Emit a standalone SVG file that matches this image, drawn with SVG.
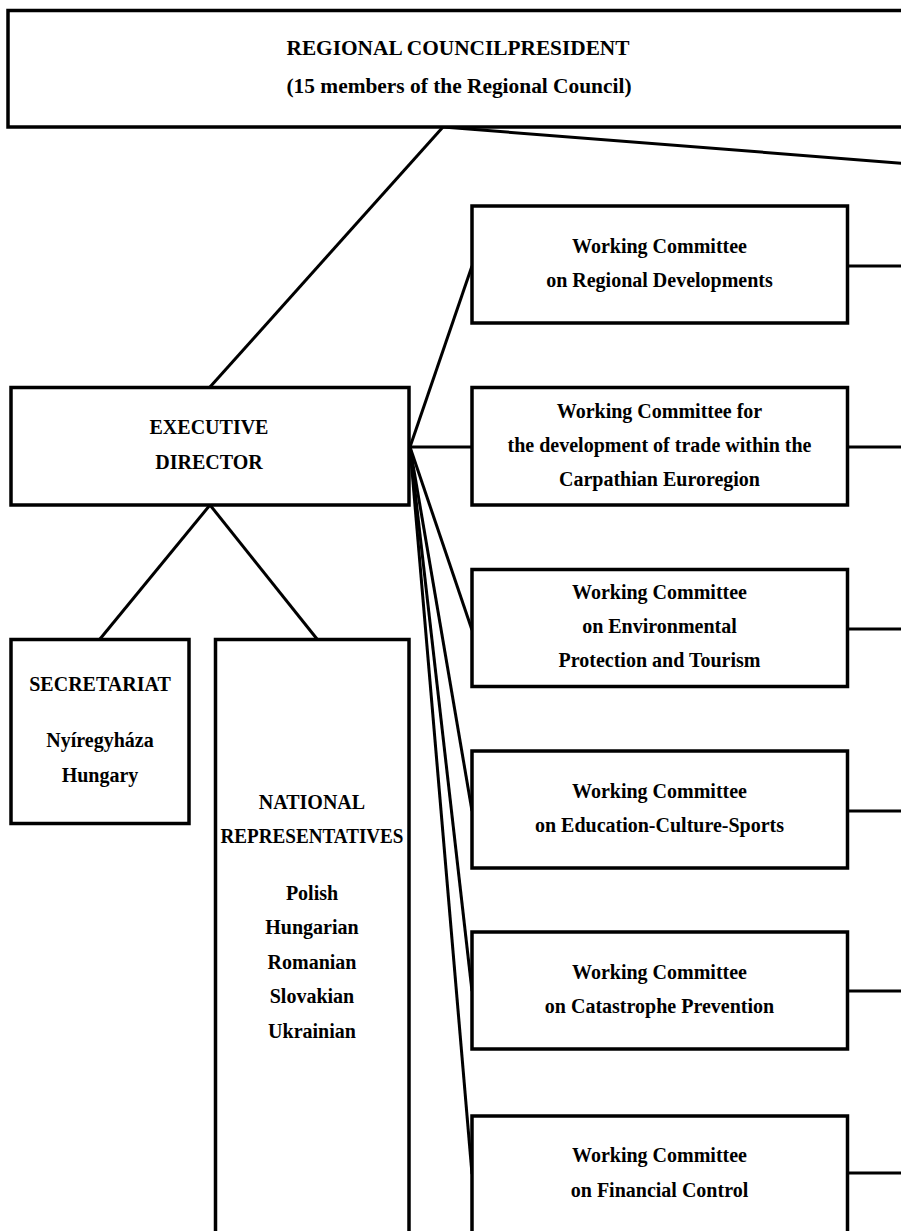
<svg xmlns="http://www.w3.org/2000/svg" width="901" height="1231" viewBox="0 0 901 1231">
<style>
.box{fill:#fff;stroke:#000;stroke-width:3.5}
.ln{fill:none;stroke:#000;stroke-width:3;stroke-linecap:butt}
text{font-family:"Liberation Serif","Times New Roman",serif;font-weight:bold;font-size:20px;fill:#000;text-anchor:middle}
</style>
<rect width="901" height="1231" fill="#fff"/>
<g id="connectors">
<line class="ln" x1="443" y1="127" x2="210" y2="387"/>
<line class="ln" x1="443" y1="127" x2="905" y2="163.5"/>
<line class="ln" x1="210" y1="505" x2="100" y2="639"/>
<line class="ln" x1="210" y1="505" x2="317" y2="639"/>
<line class="ln" x1="410" y1="447" x2="472" y2="266"/>
<line class="ln" x1="410" y1="447" x2="472" y2="447"/>
<line class="ln" x1="410" y1="447" x2="472" y2="630"/>
<line class="ln" x1="410" y1="447" x2="472" y2="811"/>
<line class="ln" x1="410" y1="447" x2="472" y2="991"/>
<line class="ln" x1="410" y1="447" x2="472" y2="1174"/>
<line class="ln" x1="847" y1="266" x2="901" y2="266"/>
<line class="ln" x1="847" y1="447" x2="901" y2="447"/>
<line class="ln" x1="847" y1="629" x2="901" y2="629"/>
<line class="ln" x1="847" y1="811" x2="901" y2="811"/>
<line class="ln" x1="847" y1="991" x2="901" y2="991"/>
<line class="ln" x1="847" y1="1173" x2="901" y2="1173"/>
</g>
<g id="regional-council">
<rect class="box" x="8" y="10.5" width="1000" height="116.5"/>
<text x="458" y="55" font-size="21" textLength="343" lengthAdjust="spacingAndGlyphs">REGIONAL COUNCILPRESIDENT</text>
<text x="459" y="93" font-size="21" textLength="345" lengthAdjust="spacingAndGlyphs">(15 members of the Regional Council)</text>
</g>
<g id="executive-director">
<rect class="box" x="11" y="387.5" width="398" height="117.5"/>
<text x="209" y="434">EXECUTIVE</text>
<text x="209" y="469">DIRECTOR</text>
</g>
<g id="secretariat">
<rect class="box" x="11" y="639.5" width="178" height="184"/>
<text x="100" y="691">SECRETARIAT</text>
<text x="100" y="747">Nyíregyháza</text>
<text x="100" y="782">Hungary</text>
</g>
<g id="national-representatives">
<rect class="box" x="215.5" y="639.5" width="193.5" height="640"/>
<text x="312" y="809">NATIONAL</text>
<text x="312" y="843" textLength="183" lengthAdjust="spacingAndGlyphs">REPRESENTATIVES</text>
<text x="312" y="900">Polish</text>
<text x="312" y="934">Hungarian</text>
<text x="312" y="969">Romanian</text>
<text x="312" y="1003">Slovakian</text>
<text x="312" y="1038">Ukrainian</text>
</g>
<g id="wc-regional">
<rect class="box" x="472" y="206" width="375.5" height="117"/>
<text x="659.5" y="253">Working Committee</text>
<text x="659.5" y="287">on Regional Developments</text>
</g>
<g id="wc-trade">
<rect class="box" x="472" y="387.5" width="375.5" height="117.5"/>
<text x="659.5" y="418">Working Committee for</text>
<text x="659.5" y="452">the development of trade within the</text>
<text x="659.5" y="486">Carpathian Euroregion</text>
</g>
<g id="wc-environment">
<rect class="box" x="472" y="569.5" width="375.5" height="117"/>
<text x="659.5" y="598.5">Working Committee</text>
<text x="659.5" y="633">on Environmental</text>
<text x="659.5" y="667">Protection and Tourism</text>
</g>
<g id="wc-education">
<rect class="box" x="472" y="751" width="375.5" height="117"/>
<text x="659.5" y="797.5">Working Committee</text>
<text x="659.5" y="832">on Education-Culture-Sports</text>
</g>
<g id="wc-catastrophe">
<rect class="box" x="472" y="932" width="375.5" height="117"/>
<text x="659.5" y="978.5">Working Committee</text>
<text x="659.5" y="1013">on Catastrophe Prevention</text>
</g>
<g id="wc-financial">
<rect class="box" x="472" y="1116" width="375.5" height="160"/>
<text x="659.5" y="1162">Working Committee</text>
<text x="659.5" y="1197">on Financial Control</text>
</g>
</svg>
